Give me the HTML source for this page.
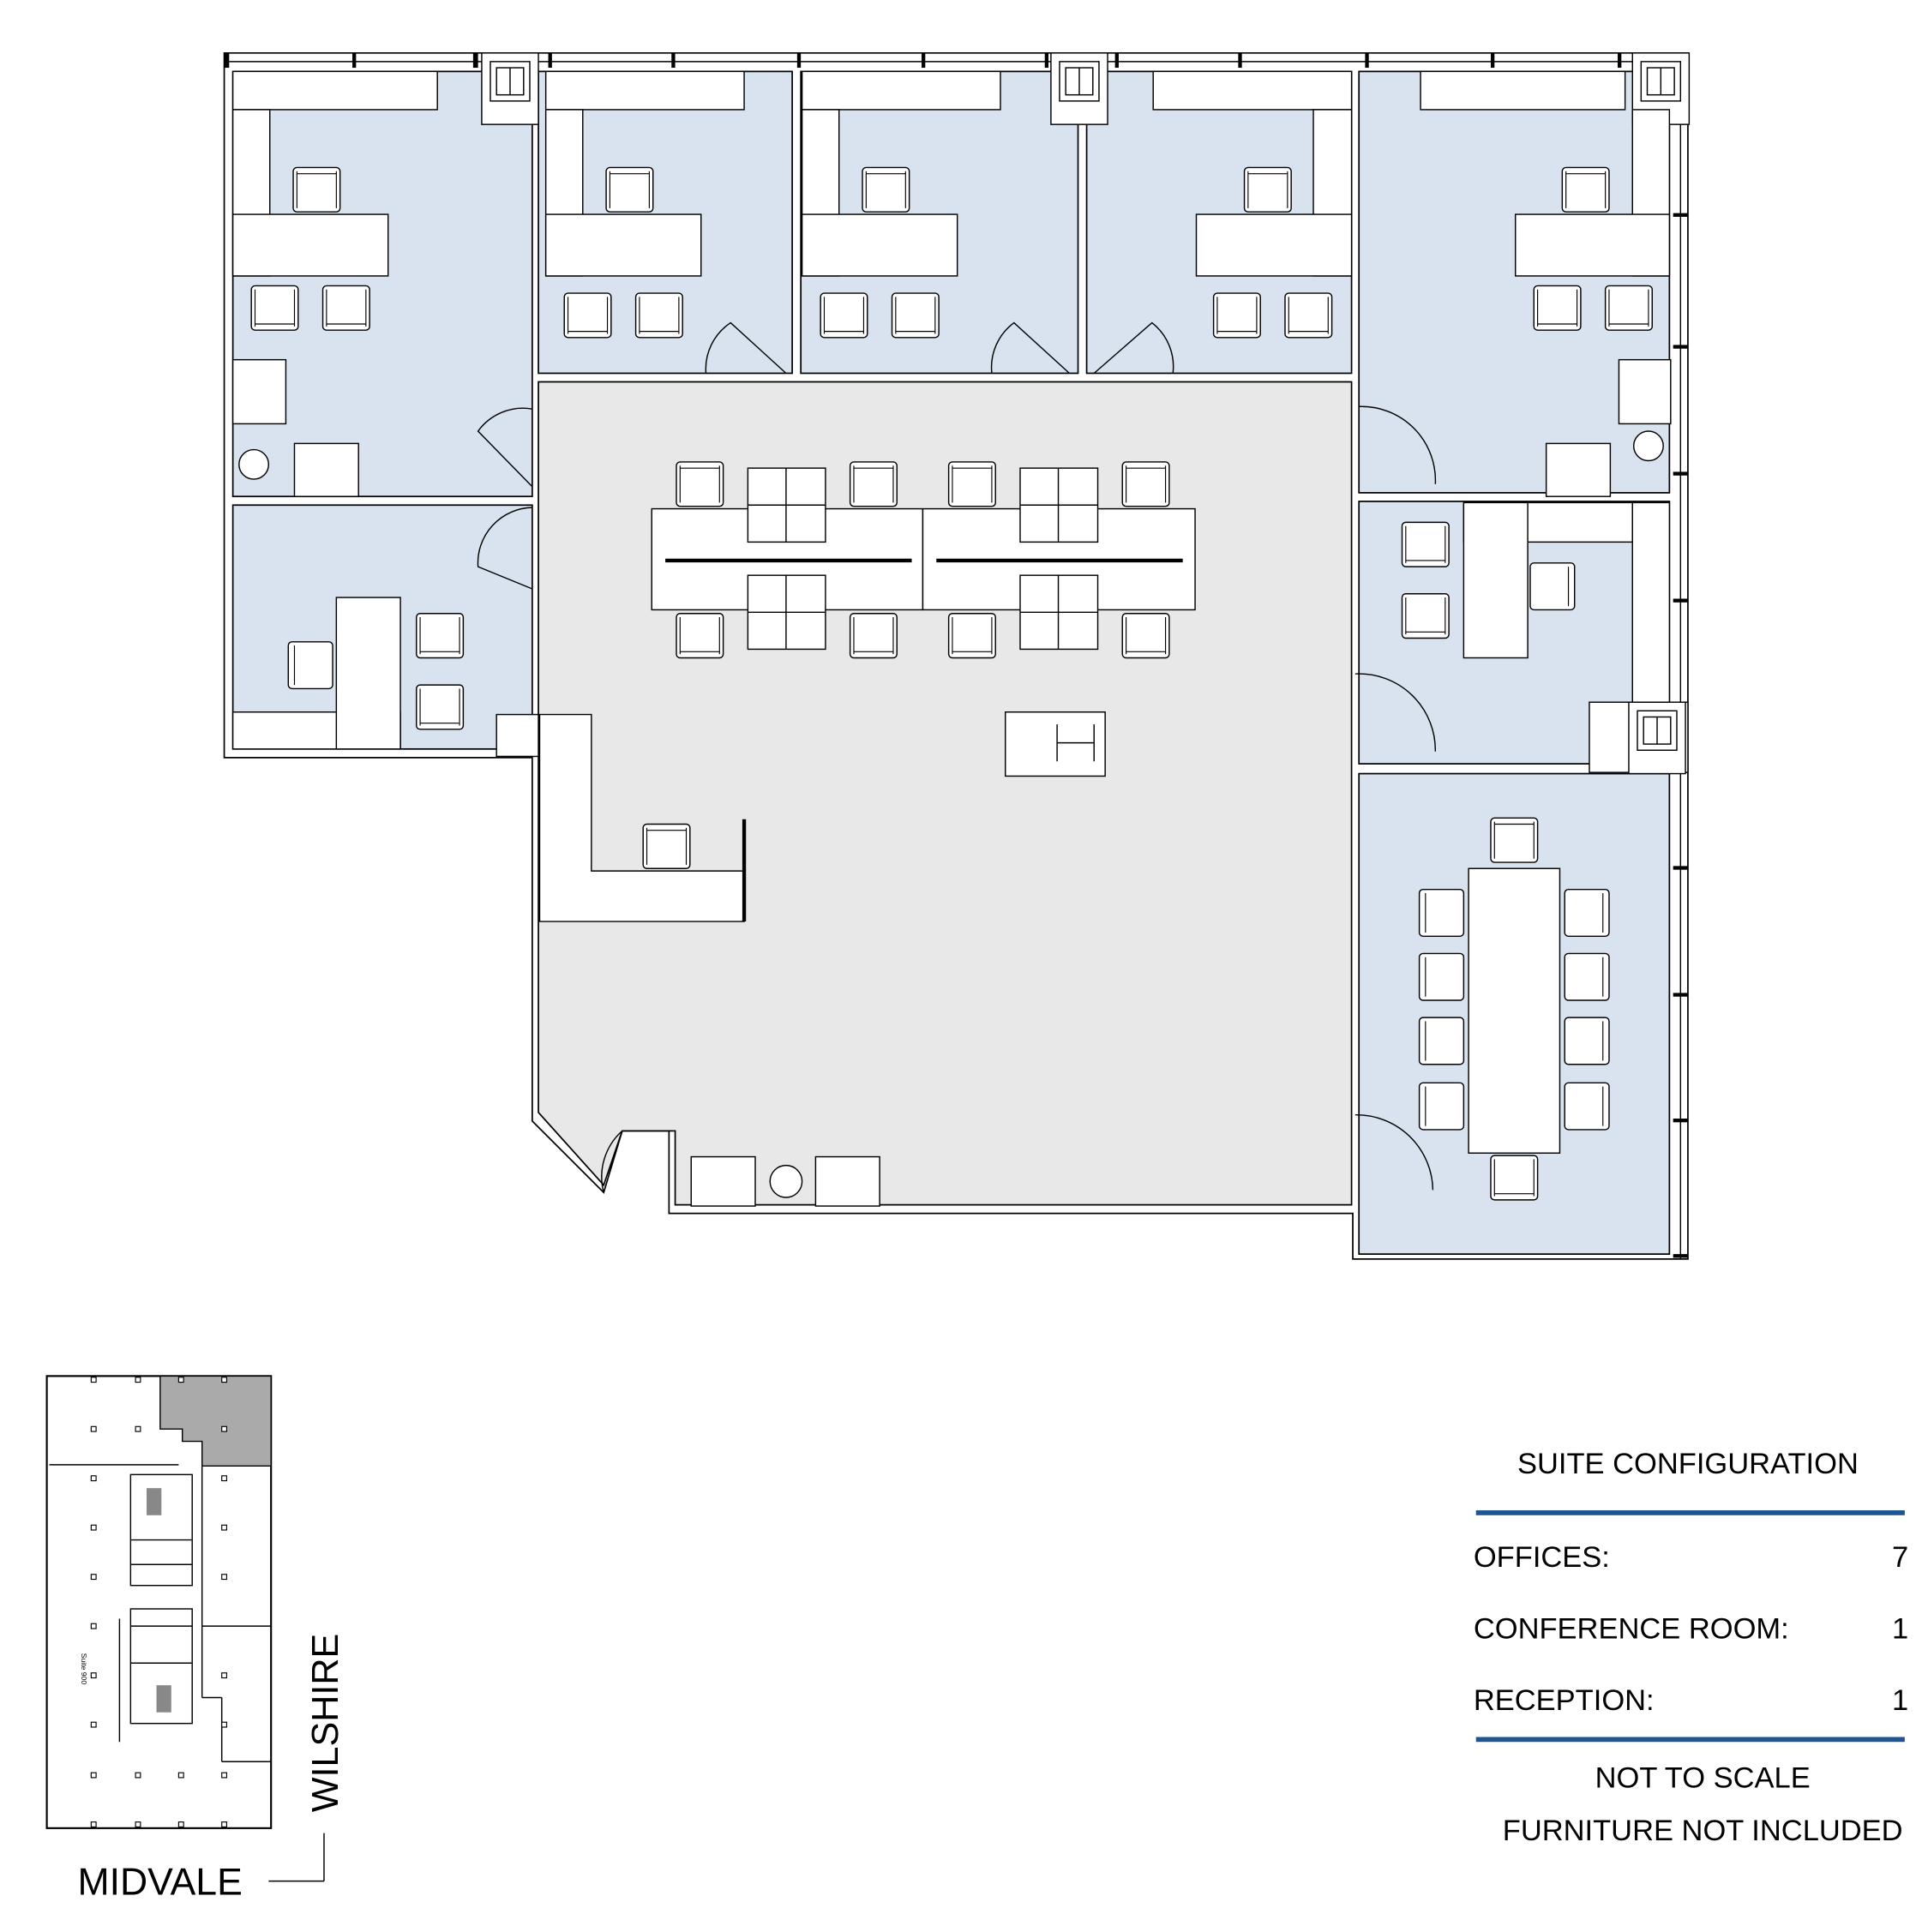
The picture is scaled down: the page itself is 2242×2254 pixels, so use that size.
<!DOCTYPE html>
<html><head><meta charset="utf-8"><style>html,body{margin:0;padding:0;background:#fff}svg{display:block}</style></head><body>
<svg width="2242" height="2254" viewBox="0 0 1560 1568.3" preserveAspectRatio="none" xmlns="http://www.w3.org/2000/svg" font-family="Liberation Sans, sans-serif">
<defs>
<g id="ch"><rect x="0" y="0" width="38" height="36" rx="3" fill="#fff" stroke="#000" stroke-width="1"/><line x1="3" y1="5" x2="35" y2="5" stroke="#000" stroke-width="0.8"/><line x1="3" y1="3" x2="3" y2="33" stroke="#000" stroke-width="0.8"/><line x1="35" y1="3" x2="35" y2="33" stroke="#000" stroke-width="0.8"/></g>
<g id="chd"><rect x="0" y="0" width="38" height="36" rx="3" fill="#fff" stroke="#000" stroke-width="1"/><line x1="3" y1="31" x2="35" y2="31" stroke="#000" stroke-width="0.8"/><line x1="3" y1="3" x2="3" y2="33" stroke="#000" stroke-width="0.8"/><line x1="35" y1="3" x2="35" y2="33" stroke="#000" stroke-width="0.8"/></g>
<g id="chl"><rect x="0" y="0" width="36" height="38" rx="3" fill="#fff" stroke="#000" stroke-width="1"/><line x1="5" y1="3" x2="5" y2="35" stroke="#000" stroke-width="0.8"/></g>
<g id="chr"><rect x="0" y="0" width="36" height="38" rx="3" fill="#fff" stroke="#000" stroke-width="1"/><line x1="31" y1="3" x2="31" y2="35" stroke="#000" stroke-width="0.8"/></g>
<g id="col"><rect x="0" y="0" width="46" height="58" fill="#fff" stroke="#000"/><rect x="7" y="7" width="32" height="32" fill="#fff" stroke="#000"/><rect x="12" y="12" width="22" height="22" fill="#fff" stroke="#000"/><line x1="23" y1="12" x2="23" y2="34" stroke="#000"/></g>
<rect id="kd" x="-2" y="-2" width="4" height="4" fill="#fff" stroke="#000" stroke-width="0.8"/>
</defs>
<g stroke="#000" stroke-width="1.2">
<polygon points="182,43 1370,43 1370,1022 1098,1022 1098,985 543,985 543,918 505,918 490,968 432,910 432,615 182,615" fill="#fff"/>
<polygon points="437,310 1097,310 1097,978 548,978 548,918 505,918 490,962 437,903" fill="#e8e8e8"/>
<rect x="189" y="58" width="243" height="345" fill="#d8e3ef"/>
<rect x="437" y="58" width="206" height="245" fill="#d8e3ef"/>
<rect x="650" y="58" width="225" height="245" fill="#d8e3ef"/>
<rect x="882" y="58" width="215" height="245" fill="#d8e3ef"/>
<rect x="1103" y="58" width="252" height="342" fill="#d8e3ef"/>
<rect x="189" y="410" width="243" height="198" fill="#d8e3ef"/>
<rect x="1103" y="407" width="252" height="213" fill="#d8e3ef"/>
<rect x="1103" y="628" width="252" height="390" fill="#d8e3ef"/>
</g>
<g fill="#000"><rect x="182" y="43" width="4" height="12"/><rect x="286" y="43" width="3" height="12"/><rect x="384" y="43" width="4" height="12"/><rect x="445" y="43" width="3" height="12"/><rect x="545" y="43" width="3" height="12"/><rect x="647" y="43" width="3" height="12"/><rect x="748" y="43" width="3" height="12"/><rect x="848" y="43" width="3" height="12"/><rect x="905" y="43" width="3" height="12"/><rect x="1005" y="43" width="3" height="12"/><rect x="1108" y="43" width="3" height="12"/><rect x="1210" y="43" width="3" height="12"/><rect x="1313" y="43" width="3" height="12"/>
<rect x="1358" y="95" width="12" height="3"/><rect x="1358" y="173" width="12" height="3"/><rect x="1358" y="280" width="12" height="3"/><rect x="1358" y="383" width="12" height="3"/><rect x="1358" y="486" width="12" height="3"/><rect x="1358" y="598" width="12" height="3"/><rect x="1358" y="703" width="12" height="3"/><rect x="1358" y="806" width="12" height="3"/><rect x="1358" y="908" width="12" height="3"/><rect x="1358" y="1018" width="12" height="3"/></g>
<g stroke="#000" fill="none" stroke-width="1"><line x1="186" y1="50" x2="1364" y2="50"/><line x1="1364" y1="50" x2="1364" y2="1022"/></g>
<use href="#col" x="391" y="43"/><use href="#col" x="853" y="43"/><use href="#col" x="1325" y="43"/>
<rect x="1290" y="570" width="80" height="57" fill="#fff" stroke="#000"/>
<use href="#col" x="1322" y="570"/>
<g stroke="#000" stroke-width="1" fill="#fff">
<rect x="189" y="58" width="166" height="31"/><rect x="189" y="89" width="30" height="135"/><rect x="189" y="174" width="126" height="50"/>
<rect x="189" y="292" width="43" height="52"/><circle cx="206" cy="377" r="12"/><rect x="239" y="360" width="52" height="43"/>
<rect x="443" y="58" width="161" height="31"/><rect x="443" y="89" width="30" height="135"/><rect x="443" y="174" width="126" height="50"/>
<rect x="651" y="58" width="161" height="31"/><rect x="651" y="89" width="30" height="135"/><rect x="651" y="174" width="126" height="50"/>
<rect x="936" y="58" width="161" height="31"/><rect x="1066" y="89" width="31" height="135"/><rect x="971" y="174" width="126" height="50"/>
<rect x="1153" y="58" width="166" height="31"/><rect x="1325" y="89" width="30" height="135"/><rect x="1230" y="174" width="125" height="50"/>
<rect x="1314" y="292" width="42" height="52"/><circle cx="1338" cy="362" r="12"/><rect x="1255" y="360" width="52" height="43"/>
<rect x="189" y="578" width="136" height="30"/><rect x="273" y="485" width="52" height="123"/>
<rect x="403" y="580" width="34" height="34"/>
<rect x="1188" y="408" width="137" height="32"/><rect x="1188" y="408" width="52" height="126"/><rect x="1325" y="408" width="30" height="162"/>
<rect x="529" y="413" width="220" height="82"/><rect x="749" y="413" width="221" height="82"/>
<rect x="607" y="380" width="63" height="60"/><line x1="638" y1="380" x2="638" y2="440"/><line x1="607" y1="410" x2="670" y2="410"/>
<rect x="607" y="467" width="63" height="60"/><line x1="638" y1="467" x2="638" y2="527"/><line x1="607" y1="497" x2="670" y2="497"/>
<rect x="828" y="380" width="63" height="60"/><line x1="859" y1="380" x2="859" y2="440"/><line x1="828" y1="410" x2="891" y2="410"/>
<rect x="828" y="467" width="63" height="60"/><line x1="859" y1="467" x2="859" y2="527"/><line x1="828" y1="497" x2="891" y2="497"/>
<polygon points="438,580 480,580 480,707 604,707 604,748 438,748"/>
<rect x="816" y="578" width="81" height="52"/><path d="M858,588 V618 M858,603 H888 M888,588 V618" fill="none"/>
<rect x="1192" y="705" width="74" height="231"/>
<rect x="561" y="939" width="52" height="40"/><circle cx="638" cy="959" r="13"/><rect x="662" y="939" width="52" height="40"/>
</g>
<g stroke="#000" stroke-width="3"><line x1="540" y1="455" x2="740" y2="455"/><line x1="760" y1="455" x2="960" y2="455"/><line x1="604" y1="665" x2="604" y2="748"/></g>
<g stroke="#000" stroke-width="1" fill="none">
<path d="M432,332 A45,45 0 0 0 388,350 L432,395"/><path d="M432,412 A45,45 0 0 0 388,460 L432,478"/>
<path d="M573,303 A45,45 0 0 1 593,262 L638,303"/><path d="M805,303 A45,45 0 0 1 823,262 L868,303"/><path d="M952,303 A45,45 0 0 0 935,262 L888,303"/>
<path d="M1103,330 A60,60 0 0 1 1165,393"/><path d="M1100,547 A62,62 0 0 1 1165,610"/><path d="M1100,905 A62,62 0 0 1 1163,966"/>
<path d="M505,918 A50,50 0 0 0 490,968"/>
</g>
<use href="#ch" x="238" y="136"/><use href="#chd" x="204" y="232"/><use href="#chd" x="262" y="232"/>
<use href="#ch" x="492" y="136"/><use href="#chd" x="458" y="238"/><use href="#chd" x="516" y="238"/>
<use href="#ch" x="700" y="136"/><use href="#chd" x="666" y="238"/><use href="#chd" x="724" y="238"/>
<use href="#ch" x="1010" y="136"/><use href="#chd" x="985" y="238"/><use href="#chd" x="1043" y="238"/>
<use href="#ch" x="1268" y="136"/><use href="#chd" x="1245" y="232"/><use href="#chd" x="1303" y="232"/>
<use href="#chl" x="234" y="521"/><use href="#chd" x="338" y="498"/><use href="#chd" x="338" y="556"/>
<use href="#chd" x="1138" y="424"/><use href="#chd" x="1138" y="482"/><use href="#chr" x="1242" y="457"/>
<use href="#ch" x="549" y="375"/><use href="#ch" x="690" y="375"/><use href="#ch" x="770" y="375"/><use href="#ch" x="911" y="375"/>
<use href="#chd" x="549" y="498"/><use href="#chd" x="690" y="498"/><use href="#chd" x="770" y="498"/><use href="#chd" x="911" y="498"/>
<use href="#ch" x="522" y="669"/>
<use href="#ch" x="1210" y="664"/><use href="#chd" x="1210" y="938"/>
<use href="#chl" x="1152" y="722"/><use href="#chl" x="1152" y="774"/><use href="#chl" x="1152" y="826"/><use href="#chl" x="1152" y="879"/>
<use href="#chr" x="1270" y="722"/><use href="#chr" x="1270" y="774"/><use href="#chr" x="1270" y="826"/><use href="#chr" x="1270" y="879"/>
<g stroke="#000" stroke-width="1" fill="none">
<rect x="38" y="1117" width="182" height="367" stroke-width="1.5"/>
<polygon points="130,1117 220,1117 220,1190 164,1190 164,1170 148,1170 148,1160 130,1160" fill="#aaa"/>
<line x1="40" y1="1189" x2="145" y2="1189"/><line x1="164" y1="1190" x2="164" y2="1320"/><line x1="164" y1="1320" x2="220" y2="1320"/><line x1="164" y1="1320" x2="164" y2="1378"/><line x1="164" y1="1378" x2="180" y2="1378"/><line x1="180" y1="1378" x2="180" y2="1430"/><line x1="180" y1="1430" x2="220" y2="1430"/>
<rect x="106" y="1197" width="50" height="90"/><rect x="106" y="1306" width="50" height="93"/>
<line x1="106" y1="1250" x2="156" y2="1250"/><line x1="106" y1="1270" x2="156" y2="1270"/><line x1="106" y1="1320" x2="156" y2="1320"/><line x1="106" y1="1350" x2="156" y2="1350"/>
<line x1="97" y1="1314" x2="97" y2="1414"/>
<line x1="218" y1="1527" x2="263" y2="1527"/><line x1="263" y1="1527" x2="263" y2="1488"/>
</g>
<g>
<use href="#kd" x="76" y="1120"/><use href="#kd" x="112" y="1120"/><use href="#kd" x="147" y="1120"/><use href="#kd" x="182" y="1120"/>
<use href="#kd" x="76" y="1160"/><use href="#kd" x="112" y="1160"/><use href="#kd" x="182" y="1160"/>
<use href="#kd" x="76" y="1200"/><use href="#kd" x="76" y="1240"/><use href="#kd" x="76" y="1280"/><use href="#kd" x="76" y="1320"/><use href="#kd" x="76" y="1360"/><use href="#kd" x="76" y="1400"/><use href="#kd" x="76" y="1441"/><use href="#kd" x="112" y="1441"/><use href="#kd" x="147" y="1441"/><use href="#kd" x="182" y="1441"/>
<use href="#kd" x="182" y="1200"/><use href="#kd" x="182" y="1240"/><use href="#kd" x="182" y="1280"/><use href="#kd" x="182" y="1360"/><use href="#kd" x="182" y="1400"/>
<use href="#kd" x="76" y="1481"/><use href="#kd" x="112" y="1481"/><use href="#kd" x="147" y="1481"/><use href="#kd" x="182" y="1481"/>
</g>
<rect x="119" y="1208" width="12" height="22" fill="#888"/><rect x="127" y="1368" width="12" height="22" fill="#888"/>
<text x="66" y="1342" font-size="6" transform="rotate(90 66 1342)">Suite 900</text>
<text x="63" y="1538" font-size="31">MIDVALE</text>
<text x="0" y="0" font-size="30" transform="translate(274,1471) rotate(-90)">WILSHIRE</text>
<g font-size="24" fill="#000">
<text x="1370" y="1196" text-anchor="middle">SUITE CONFIGURATION</text>
<text x="1196" y="1272">OFFICES:</text><text x="1549" y="1272" text-anchor="end">7</text>
<text x="1196" y="1330">CONFERENCE ROOM:</text><text x="1549" y="1330" text-anchor="end">1</text>
<text x="1196" y="1388">RECEPTION:</text><text x="1549" y="1388" text-anchor="end">1</text>
<text x="1382" y="1451" text-anchor="middle">NOT TO SCALE</text>
<text x="1382" y="1494" text-anchor="middle">FURNITURE NOT INCLUDED</text>
</g>
<rect x="1198" y="1226" width="348" height="4" fill="#1f5593"/>
<rect x="1198" y="1410" width="348" height="4" fill="#1f5593"/>
</svg>
</body></html>
